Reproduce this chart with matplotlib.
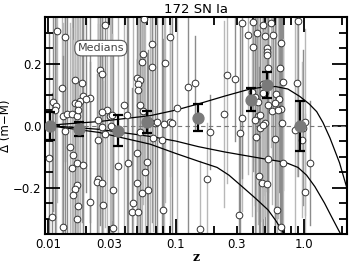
import matplotlib
matplotlib.use('Agg')
import matplotlib.pyplot as plt
from matplotlib.ticker import FixedLocator, FixedFormatter

# individual SNe: redshift, Hubble residual, error
z_sn = [0.0118, 0.0136, 0.0129, 0.0109, 0.0115, 0.0113, 0.0131, 0.0141, 0.0154, 0.0168,
        0.0163, 0.0184, 0.0188, 0.0213, 0.0178, 0.0198, 0.0163, 0.0172, 0.0172, 0.0136,
        0.0149, 0.0157, 0.0168, 0.0188, 0.0154, 0.0102, 0.0168, 0.0163, 0.0157, 0.0213,
        0.0172, 0.0107, 0.0170, 0.0131, 0.0246, 0.0242, 0.0264, 0.0246, 0.0246, 0.0264,
        0.0279, 0.0255, 0.0264, 0.0279, 0.0289, 0.0264, 0.0305, 0.0316, 0.0316, 0.0322,
        0.0268, 0.0322, 0.0352, 0.0422, 0.0392, 0.0414, 0.0495, 0.0495, 0.0543, 0.0594,
        0.0574, 0.0605, 0.0460, 0.0453, 0.0505, 0.0791, 0.0543, 0.0650, 0.0821, 0.0495,
        0.0524, 0.0505, 0.0505, 0.0650, 0.0562, 0.0553, 0.0899, 0.124, 0.1018, 0.0524,
        0.0553, 0.0685, 0.0899, 0.0710, 0.0806, 0.0933, 0.0626, 0.0524, 0.0665, 0.0777,
        0.0310,
        0.141, 0.250, 0.289, 0.237, 0.184, 0.175, 0.310, 0.154, 0.316, 0.328,
        0.328, 0.399, 0.479, 0.555, 0.90, 0.365, 0.430, 0.497, 0.575, 0.665,
        0.399, 0.515, 0.515, 0.515, 0.653, 0.525, 0.690, 0.880, 0.497, 0.392,
        0.414, 0.607, 0.642, 0.596, 0.437, 0.479, 0.479, 0.565, 0.665, 0.630,
        0.525, 0.437, 0.453, 0.497, 0.677, 1.02, 0.98, 0.86, 0.453, 0.422,
        0.596, 0.965, 0.414, 0.479, 0.525, 0.690, 0.445, 0.470, 0.515, 1.02,
        1.11, 0.618, 0.665]
d_sn = [0.305, 0.286, 0.122, 0.076, 0.064, 0.051, 0.031, 0.038, 0.038, 0.031,
        0.147, 0.138, 0.096, 0.090, 0.080, 0.086, 0.073, 0.070, 0.051, -0.017,
        -0.069, -0.095, -0.120, -0.127, -0.136, -0.104, -0.191, -0.204, -0.224, -0.246,
        -0.259, -0.295, -0.301, -0.327, -0.172, -0.182, -0.185, 0.018, -0.046, -0.004,
        -0.027, 0.180, 0.167, 0.325, 0.051, 0.044, 0.031, 0.035, -0.004, -0.207,
        -0.256, -0.330, -0.130, -0.120, 0.067, 0.035, -0.088, -0.185, -0.217, -0.117,
        -0.149, -0.207, -0.249, -0.278, -0.278, -0.272, 0.205, 0.190, 0.202, 0.154,
        0.147, 0.135, 0.115, 0.264, 0.344, 0.231, 0.286, 0.125, 0.057, 0.067,
        0.047, 0.009, 0.012, 0.012, 0.005, 0.009, 0.012, -0.020, -0.040, -0.046,
        0.000,
        0.138, 0.164, 0.150, 0.038, -0.020, -0.172, -0.288, -0.333, -0.024, 0.025,
        0.331, 0.335, 0.325, 0.331, 0.338, 0.293, 0.299, 0.289, 0.293, 0.267,
        0.254, 0.251, 0.238, 0.228, 0.186, 0.186, 0.141, 0.138, 0.109, 0.109,
        0.093, 0.102, 0.086, 0.073, 0.076, 0.106, 0.135, 0.047, 0.054, 0.051,
        0.067, 0.031, 0.035, 0.009, 0.009, 0.012, -0.007, -0.014, -0.007, -0.036,
        -0.043, -0.046, 0.018, 0.002, -0.107, -0.120, -0.162, -0.185, -0.188, -0.214,
        -0.120, -0.272, -0.327]
err_sn = [0.55, 0.40, 0.50, 0.35, 0.60, 0.45, 0.30, 0.55, 0.40, 0.50,
          0.35, 0.45, 0.55, 0.40, 0.60, 0.30, 0.50, 0.45, 0.35, 0.55,
          0.40, 0.50, 0.30, 0.60, 0.45, 0.40, 0.55, 0.35, 0.50, 0.45,
          0.60, 0.40, 0.30, 0.55, 0.50, 0.35, 0.45, 0.60, 0.40, 0.55,
          0.30, 0.50, 0.45, 0.35, 0.60, 0.40, 0.55, 0.50, 0.30, 0.45,
          0.40, 0.35, 0.55, 0.60, 0.45, 0.50, 0.30, 0.40, 0.55, 0.35,
          0.50, 0.45, 0.60, 0.40, 0.30, 0.55, 0.35, 0.50, 0.45, 0.40,
          0.60, 0.30, 0.55, 0.40, 0.50, 0.35, 0.45, 0.60, 0.40, 0.55,
          0.30, 0.50, 0.35, 0.45, 0.60, 0.40, 0.55, 0.50, 0.30, 0.45,
          0.40,
          0.15, 0.35, 0.20, 0.30, 0.12, 0.18, 0.25, 0.22, 0.35, 0.30,
          0.50, 0.45, 0.55, 0.40, 0.50, 0.45, 0.35, 0.50, 0.40, 0.55,
          0.40, 0.35, 0.45, 0.30, 0.50, 0.40, 0.35, 0.30, 0.45, 0.40,
          0.35, 0.40, 0.30, 0.45, 0.35, 0.40, 0.50, 0.30, 0.40, 0.35,
          0.45, 0.35, 0.40, 0.30, 0.45, 0.30, 0.25, 0.40, 0.30, 0.40,
          0.45, 0.25, 0.40, 0.30, 0.45, 0.40, 0.35, 0.50, 0.40, 0.25,
          0.20, 0.45, 0.40]

# binned medians
med_z = [0.0104, 0.0175, 0.0352, 0.0593, 0.149, 0.385, 0.514, 0.93]
med_d = [0.0, -0.012, -0.016, 0.011, 0.026, 0.083, 0.131, -0.001]
med_err = [0.045, 0.023, 0.05, 0.035, 0.045, 0.037, 0.043, 0.08]

# model curves
up_z = [0.01, 0.0125, 0.025, 0.063, 0.1, 0.15, 0.24, 0.38, 0.5, 0.6, 0.75, 0.93, 1.1, 1.26, 1.41, 1.6, 1.9, 2.2]
up_d = [0.0, 0.004, 0.013, 0.032, 0.05, 0.07, 0.095, 0.118, 0.125, 0.126, 0.118, 0.094, 0.07, 0.045, 0.01, -0.04, -0.12, -0.21]
mid_z = [0.01, 0.025, 0.063, 0.1, 0.15, 0.24, 0.33, 0.5, 0.71, 0.9, 1.05, 1.22, 1.45, 1.65, 1.86, 2.0]
mid_d = [0.0, -0.012, -0.035, -0.05, -0.068, -0.085, -0.095, -0.108, -0.118, -0.135, -0.16, -0.197, -0.25, -0.295, -0.336, -0.36]
low_z = [0.01, 0.025, 0.063, 0.1, 0.15, 0.21, 0.26, 0.33, 0.42, 0.525, 0.6, 0.67, 0.72]
low_d = [0.0, -0.022, -0.06, -0.09, -0.115, -0.135, -0.16, -0.197, -0.235, -0.272, -0.305, -0.336, -0.36]

fig = plt.figure(figsize=(3.49, 2.63), dpi=100)
ax = fig.add_axes([0.129, 0.110, 0.865, 0.825])

# error bars of the individual SNe
for i in range(len(z_sn)):
    c = '#8c8c8c' if i % 2 else '#b8b8b8'
    ax.plot([z_sn[i], z_sn[i]], [d_sn[i] - err_sn[i], d_sn[i] + err_sn[i]], color=c, lw=1.0, zorder=1)

ax.axhline(0, color='#777777', lw=0.8, ls=(0, (4, 3)), zorder=2)

ax.plot(up_z, up_d, 'k-', lw=0.9, zorder=3)
ax.plot(mid_z, mid_d, 'k-', lw=0.9, zorder=3)
ax.plot(low_z, low_d, 'k-', lw=0.9, zorder=3)

ax.plot(z_sn, d_sn, 'o', ms=4.8, mfc='white', mec='#333333', mew=0.7, zorder=4)

ax.errorbar(med_z, med_d, yerr=med_err, fmt='none', ecolor='k', elinewidth=1.6, capsize=3.5, capthick=1.6, zorder=5)
ax.plot(med_z, med_d, 'o', ms=7.8, color='#7a7a7a', zorder=6)

ax.text(0.185, 0.857, 'Medians', transform=ax.transAxes, ha='center', va='center', fontsize=8, color='#444444',
        bbox=dict(boxstyle='round,pad=0.25,rounding_size=0.6', fc='white', ec='#555555', lw=0.8))

ax.set_xscale('log')
ax.set_xlim(0.0095, 2.17)
ax.set_ylim(-0.35, 0.35)

ax.xaxis.set_major_locator(FixedLocator([0.01, 0.1, 1.0]))
ax.xaxis.set_major_formatter(FixedFormatter(['0.01', '0.1', '1.0']))
minors = [m * 10.0**e for e in (-2, -1, 0) for m in range(2, 10)]
ax.xaxis.set_minor_locator(FixedLocator(minors))
ax.xaxis.set_minor_formatter(FixedFormatter(['0.03' if abs(v - 0.03) < 1e-9 else ('0.3' if abs(v - 0.3) < 1e-9 else '') for v in minors]))

ax.yaxis.set_major_locator(FixedLocator([-0.2, 0.0, 0.2]))
ax.yaxis.set_major_formatter(FixedFormatter(['\u22120.2', '0.0', '0.2']))
ax.yaxis.set_minor_locator(FixedLocator([-0.3, -0.25, -0.15, -0.1, -0.05, 0.05, 0.1, 0.15, 0.25, 0.3]))

ax.tick_params(which='both', direction='in', top=True, right=True, labelsize=8.5, pad=2.5, width=1.3)
ax.tick_params(which='major', length=11)
ax.tick_params(which='minor', length=6)
ax.tick_params(axis='x', which='minor', labelsize=8.5, pad=2.5)
for s in ax.spines.values():
    s.set_linewidth(1.5)

ax.set_title('172 SN Ia', fontsize=9.5, pad=3)
ax.set_ylabel('\u0394 (m\u2212M)', fontsize=8.5, labelpad=1)
ax.set_xlabel('z', fontsize=9, fontweight='bold', family='DejaVu Serif', labelpad=0)

fig.savefig('out.png', dpi=100)
